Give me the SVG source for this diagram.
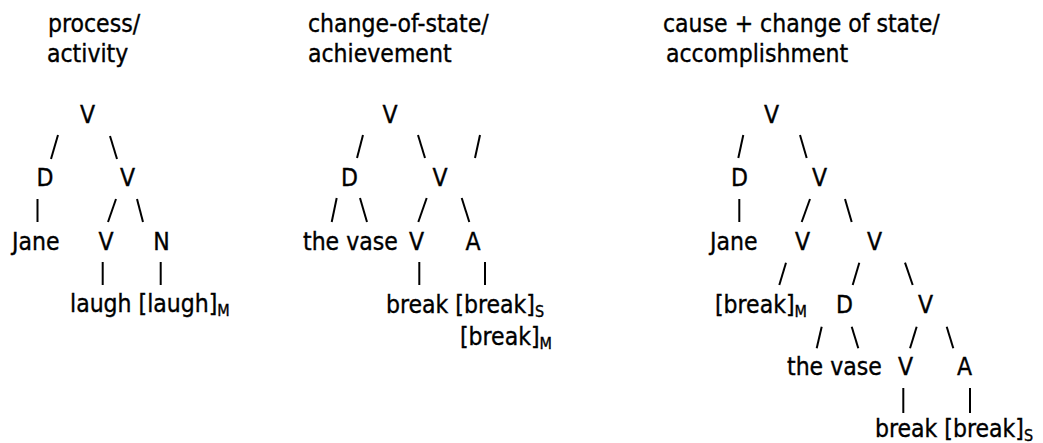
<svg xmlns="http://www.w3.org/2000/svg" width="1043" height="443" viewBox="0 0 1043 443">
<style>
text{font-family:"DejaVu Sans Condensed","DejaVu Sans",sans-serif;font-size:24.5px;fill:#000;stroke:#000;stroke-width:0.35}
.c{text-anchor:middle}
.sub{font-size:16px}
.e line{stroke:#000;stroke-width:2;stroke-linecap:butt}
</style>
<rect width="1043" height="443" fill="#fff"/>
<g id="titles">
<text x="48" y="32">process/</text>
<text x="47" y="62">activity</text>
<text x="308" y="32">change-of-state/</text>
<text x="308" y="62">achievement</text>
<text x="663" y="32">cause + change of state/</text>
<text x="666" y="62">accomplishment</text>
</g>
<g id="tree1">
<g id="t1-V"><text class="c" x="87.5" y="123">V</text></g>
<g id="t1-D"><text class="c" x="45" y="186">D</text></g>
<g id="t1-V2"><text class="c" x="127.5" y="186">V</text></g>
<g id="t1-Jane"><text x="12" y="250">Jane</text></g>
<g id="t1-V3"><text class="c" x="106" y="250">V</text></g>
<g id="t1-N"><text class="c" x="161.5" y="250">N</text></g>
<g id="t1-laugh"><text x="70" y="312">laugh [laugh]<tspan class="sub" dy="4">M</tspan></text></g>
</g>
<g id="tree2">
<g id="t2-V"><text class="c" x="390" y="123">V</text></g>
<g id="t2-D"><text class="c" x="349.5" y="186">D</text></g>
<g id="t2-V2"><text class="c" x="440" y="186">V</text></g>
<g id="t2-vase"><text x="303" y="250">the vase</text></g>
<g id="t2-V3"><text class="c" x="416.5" y="250">V</text></g>
<g id="t2-A"><text class="c" x="473" y="250">A</text></g>
<g id="t2-break"><text x="386" y="313">break [break]<tspan class="sub" dy="4">S</tspan></text></g>
<g id="t2-breakM"><text x="460" y="345">[break]<tspan class="sub" dy="4">M</tspan></text></g>
</g>
<g id="tree3">
<g id="t3-V"><text class="c" x="771.5" y="123">V</text></g>
<g id="t3-D"><text class="c" x="739.5" y="186">D</text></g>
<g id="t3-V2"><text class="c" x="819.5" y="186">V</text></g>
<g id="t3-Jane"><text x="710" y="250">Jane</text></g>
<g id="t3-V3"><text class="c" x="802.5" y="250">V</text></g>
<g id="t3-V4"><text class="c" x="874.5" y="250">V</text></g>
<g id="t3-breakM"><text x="715" y="313">[break]<tspan class="sub" dy="4">M</tspan></text></g>
<g id="t3-D2"><text class="c" x="844.5" y="313">D</text></g>
<g id="t3-V5"><text class="c" x="925.5" y="313">V</text></g>
<g id="t3-vase"><text x="787" y="375">the vase</text></g>
<g id="t3-V6"><text class="c" x="905.5" y="375">V</text></g>
<g id="t3-A"><text class="c" x="964.5" y="375">A</text></g>
<g id="t3-break"><text x="875" y="437">break [break]<tspan class="sub" dy="4">S</tspan></text></g>
</g>
<g id="connectors" class="e">
<line x1="58" y1="135" x2="51" y2="159"/>
<line x1="110" y1="136" x2="117" y2="159"/>
<line x1="37.5" y1="199" x2="37.5" y2="222"/>
<line x1="116" y1="199" x2="108" y2="222"/>
<line x1="137" y1="199" x2="143" y2="222"/>
<line x1="102.7" y1="262" x2="102.7" y2="285"/>
<line x1="160.7" y1="262" x2="160.7" y2="285"/>

<line x1="363" y1="135" x2="357" y2="158"/>
<line x1="418" y1="135" x2="425" y2="158"/>
<line x1="480" y1="135" x2="475" y2="158"/>
<line x1="336.7" y1="198" x2="331.7" y2="222"/>
<line x1="360" y1="198" x2="367" y2="222"/>
<line x1="426.7" y1="198" x2="418.3" y2="222"/>
<line x1="461.7" y1="198" x2="469.3" y2="222"/>
<line x1="419.3" y1="262" x2="419.3" y2="285"/>
<line x1="485" y1="262" x2="485" y2="285"/>

<line x1="743.3" y1="135" x2="738.3" y2="158"/>
<line x1="800" y1="135" x2="806.7" y2="158"/>
<line x1="739.3" y1="199" x2="739.3" y2="222"/>
<line x1="810" y1="199" x2="801.7" y2="222"/>
<line x1="845" y1="199" x2="851.7" y2="222"/>
<line x1="786" y1="262.7" x2="779.3" y2="285"/>
<line x1="859.3" y1="262.7" x2="852.7" y2="285"/>
<line x1="905" y1="262.7" x2="912.7" y2="285"/>
<line x1="821.7" y1="326.7" x2="816.7" y2="348.3"/>
<line x1="851.7" y1="326.7" x2="858.3" y2="348.3"/>
<line x1="916.7" y1="326.7" x2="910" y2="348.3"/>
<line x1="946.7" y1="326.7" x2="953.3" y2="348.3"/>
<line x1="903.3" y1="388" x2="903.3" y2="413"/>
<line x1="970" y1="388" x2="970" y2="413"/>
</g>
</svg>
